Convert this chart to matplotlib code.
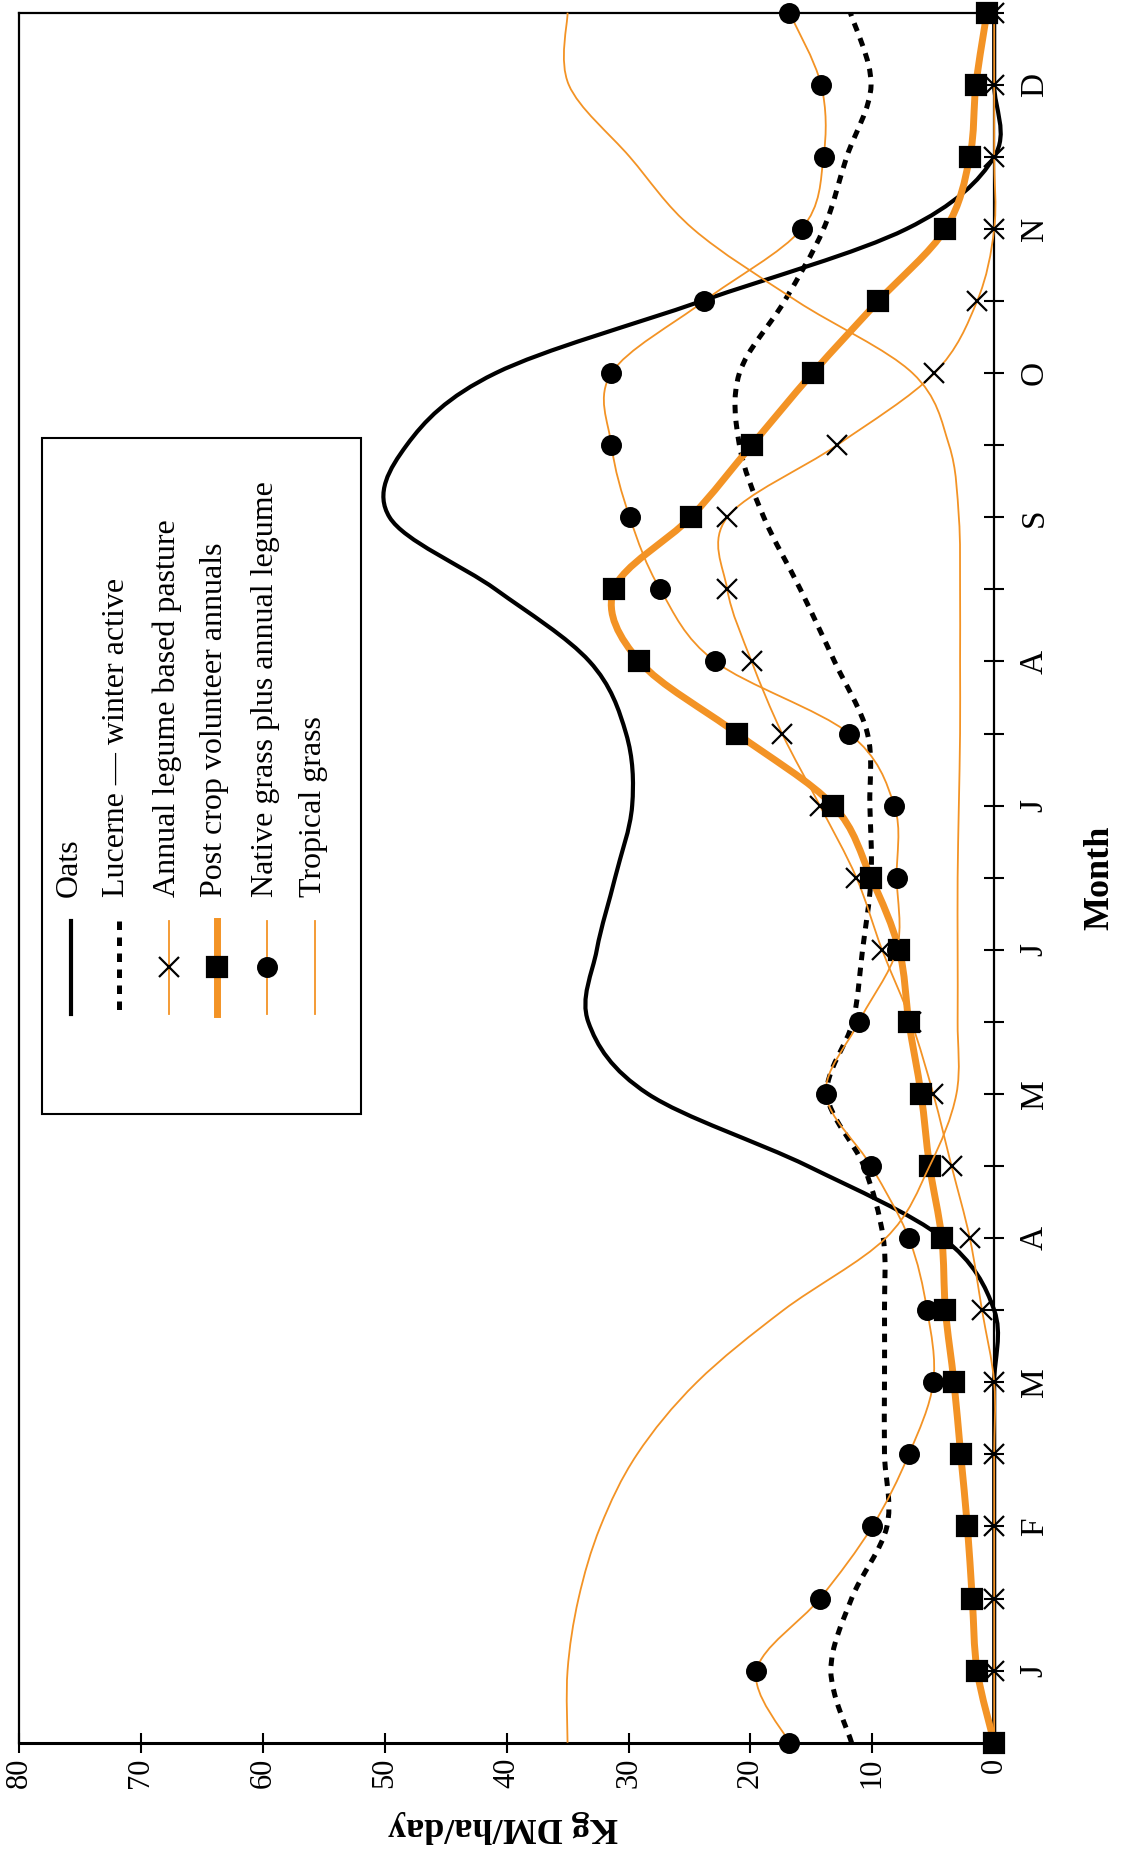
import numpy as np
import matplotlib
matplotlib.use("Agg")
from matplotlib import pyplot as plt
from matplotlib.path import Path
from matplotlib.patches import PathPatch, Rectangle
from matplotlib.lines import Line2D

plt.rcParams['font.family'] = ['Liberation Serif', 'DejaVu Serif']

# half-month positions, J .. D (0 = start of Jan, 12 = end of Dec)
months = [0, 0.5, 1, 1.5, 2, 2.5, 3, 3.5, 4, 4.5, 5, 5.5, 6,
          6.5, 7, 7.5, 8, 8.5, 9, 9.5, 10, 10.5, 11, 11.5, 12]
month_labels = ['J', 'F', 'M', 'A', 'M', 'J', 'J', 'A', 'S', 'O', 'N', 'D']

# growth rates, kg DM/ha/day
oats = [0, 0, 0, 0, 0, 0, 0, 4.2, 15.3, 28.4, 33.3, 32.6, 31.1,
        29.7, 30.2, 33.2, 40.9, 49.6, 48.2, 40.9, 24.0, 7.2, 0, 0, 0]
lucerne = [11.7, 13.4, 11.7, 8.8, 9.0, 9.0, 9.0, 9.1, 10.7, 13.7, 11.6, 10.8, 10.1,
           10.2, 10.4, 13.1, 15.9, 18.9, 20.9, 20.9, 17.2, 14.0, 12.1, 10.1, 11.8]
annual = [0, 0, 0, 0, 0, 0, 1.0, 2.0, 3.5, 5.0, 6.8, 9.2, 11.3,
          14.3, 17.4, 19.9, 21.9, 21.9, 12.9, 4.9, 1.4, 0, 0, 0, 0]
postcrop = [0, 1.4, 1.8, 2.2, 2.75, 3.3, 4.0, 4.3, 5.3, 6.0, 7.0, 7.8, 10.1,
            13.2, 21.1, 29.1, 31.2, 24.9, 19.9, 14.9, 9.5, 4.0, 2.0, 1.5, 0.6]
native = [16.8, 19.5, 14.3, 10.0, 7.0, 5.0, 5.5, 7.0, 10.1, 13.8, 11.1, 8.0, 8.0,
          8.2, 11.9, 22.9, 27.4, 29.9, 31.4, 31.4, 23.8, 15.8, 14.0, 14.2, 16.8]
tropical = [35.0, 35.0, 34.1, 32.3, 29.3, 24.4, 17.3, 8.9, 5.3, 3.1, 3.0, 3.0, 3.0,
            2.9, 2.8, 2.8, 2.8, 2.9, 3.7, 6.7, 16.2, 24.7, 29.9, 34.9, 35.0]

ORANGE = '#F39325'
W, H = 1126, 1854


def smooth_path(vals, pos):
    # catmull-rom through the points, as bezier segments (like excel's smoothed lines)
    pts = np.column_stack([vals, pos]).astype(float)
    n = len(pts)
    verts = [pts[0]]
    codes = [Path.MOVETO]
    for i in range(n - 1):
        p0 = pts[i - 1] if i > 0 else pts[i]
        p1, p2 = pts[i], pts[i + 1]
        p3 = pts[i + 2] if i + 2 < n else pts[i + 1]
        verts += [p1 + (p2 - p0) / 6, p2 - (p3 - p1) / 6, p2]
        codes += [Path.CURVE4] * 3
    return Path(verts, codes)


def px(x, y):
    return x / W, 1 - y / H


series = [
    # label, values, colour, lw, linestyle, marker, ms
    ('Oats', oats, 'black', 3.0, '-', None, 0),
    ('Lucerne \u2014 winter active', lucerne, 'black', 3.6, (0, (1.7, 1.5)), None, 0),
    ('Annual legume based pasture', annual, ORANGE, 1.3, '-', 'x', 14),
    ('Post crop volunteer annuals', postcrop, ORANGE, 5.0, '-', 's', 14),
    ('Native grass plus annual legume', native, ORANGE, 1.3, '-', 'o', 13.5),
    ('Tropical grass', tropical, ORANGE, 1.3, '-', None, 0),
]

fig = plt.figure(figsize=(W / 100, H / 100), dpi=100)
ax = fig.add_axes([19 / W, 1 - 1742.7 / H, (994.2 - 19) / W, (1742.7 - 12.7) / H])

for k, (label, vals, col, lw, ls, mk, ms) in enumerate(series):
    patch = PathPatch(smooth_path(vals, months), facecolor='none', edgecolor=col,
                      lw=lw, linestyle=ls, clip_on=False, zorder=2 + k)
    ax.add_patch(patch)
    if mk:
        ax.plot(vals, months, linestyle='none', marker=mk, ms=ms, color='black',
                mew=1.6, clip_on=False, zorder=2 + k)

ax.set_xlim(80, 0)
ax.set_ylim(0, 12)

ax.set_xticks(range(0, 81, 10))
ax.set_xticklabels([str(v) for v in range(0, 81, 10)], rotation=90, fontsize=22)
ax.tick_params(axis='x', direction='inout', length=14, width=1.5, pad=4)

ax.yaxis.tick_right()
ax.set_yticks([m + 0.5 for m in range(12)])
ax.set_yticklabels(month_labels, rotation=90, fontsize=24, va='center')
ax.set_yticks(range(13), minor=True)
ax.tick_params(axis='y', which='both', direction='inout', length=14, width=1.5, pad=11)

for side in ['left', 'top', 'right']:
    ax.spines[side].set_linewidth(1.6)
ax.spines['bottom'].set_linewidth(2.2)

fig.text(*px(503, 1827), 'Kg DM/ha/day', rotation=180, ha='center', va='center',
         fontsize=26, fontweight='bold')
fig.text(*px(1100, 878), 'Month', rotation=90, ha='center', va='center',
         fontsize=26, fontweight='bold')

# legend box drawn by hand, everything turned on its side
x0, y0 = px(42, 1114)
x1, y1 = px(361, 438)
fig.add_artist(Rectangle((x0, y0), x1 - x0, y1 - y0, transform=fig.transFigure,
                         facecolor='white', edgecolor='black', lw=1.5, zorder=10))
cols = [71, 119, 169, 217, 267, 315]
for (label, vals, col, lw, ls, mk, ms), cx in zip(series, cols):
    xa, ya = px(cx, 921)
    xb, yb = px(cx, 1014)
    fig.add_artist(Line2D([xa, xb], [ya, yb], color=col, lw=lw, linestyle=ls,
                          transform=fig.transFigure, zorder=11))
    if mk:
        xm, ym = px(cx, 967)
        fig.add_artist(Line2D([xm], [ym], marker=mk, ms=ms, mew=1.6, color='black',
                              linestyle='none', transform=fig.transFigure, zorder=12))
    fig.text(*px(cx - 2, 897), label, rotation=90, ha='center', va='bottom',
             fontsize=23, zorder=12)

fig.savefig('out.png', dpi=100)
